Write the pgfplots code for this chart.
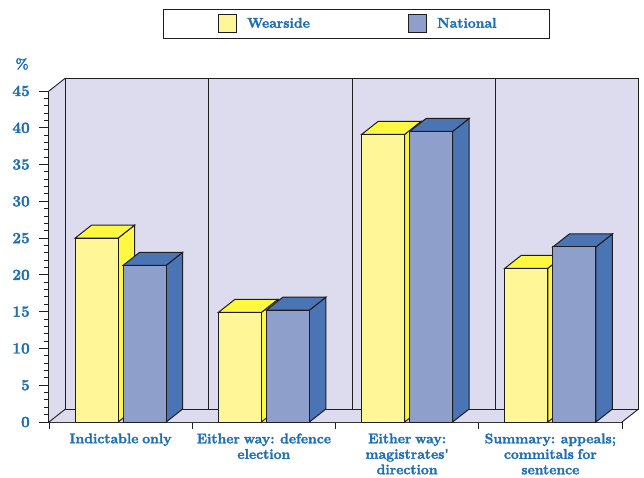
\documentclass[border=0pt]{standalone}
\usepackage{pgfplots}
\usepackage{pgfplotstable}
\pgfplotsset{compat=1.18}

\definecolor{wall}{HTML}{DCDCEE}
\definecolor{ink}{HTML}{1F6FB2}
\definecolor{edge}{HTML}{1E1E1E}
\definecolor{wfront}{HTML}{FFF797}
\definecolor{wside}{HTML}{FFF740}
\definecolor{nfront}{HTML}{8E9FCC}
\definecolor{nside}{HTML}{4A74B4}

% Blue label text, thickened a little with an outline stroke
\newcommand\inktext[1]{\fontsize{#1}{15.5}\selectfont\bfseries\color{ink}\special{pdf:code 2 Tr 0.3 w}\spaceskip=0.27em\relax}

% Percentage of cases per category; x is the middle of each group
\pgfplotstableread{
x   wearside national
0.5 25.0     21.3
1.5 14.9     15.2
2.5 39.1     39.5
3.5 20.9     23.8
}\cases

% A whole bar as a mark placed at its top: half width 21.5, depth (16.5,13),
% height taken from the plotted value. #1 name, #2 side and top colour, #3 front colour
\newcommand\definebarmark[3]{%
\pgfdeclareplotmark{#1}{%
  \pgfmathsetlengthmacro\barh{\barvalue*331pt/45}%
  \pgfsetfillcolor{#2}%
  \pgfpathmoveto{\pgfqpoint{21.5pt}{0pt}}%
  \pgfpathlineto{\pgfqpoint{38pt}{13pt}}%
  \pgfpathlineto{\pgfpoint{38pt}{13pt-\barh}}%
  \pgfpathlineto{\pgfpoint{21.5pt}{-\barh}}%
  \pgfpathclose
  \pgfusepathqfillstroke
  \pgfpathmoveto{\pgfqpoint{-21.5pt}{0pt}}%
  \pgfpathlineto{\pgfqpoint{-5pt}{13pt}}%
  \pgfpathlineto{\pgfqpoint{38pt}{13pt}}%
  \pgfpathlineto{\pgfqpoint{21.5pt}{0pt}}%
  \pgfpathclose
  \pgfusepathqfillstroke
  \pgfsetfillcolor{#3}%
  \pgfpathmoveto{\pgfqpoint{-21.5pt}{0pt}}%
  \pgfpathlineto{\pgfqpoint{21.5pt}{0pt}}%
  \pgfpathlineto{\pgfpoint{21.5pt}{-\barh}}%
  \pgfpathlineto{\pgfpoint{-21.5pt}{-\barh}}%
  \pgfpathclose
  \pgfusepathqfillstroke
}}
\definebarmark{wearside bar}{wside}{wfront}
\definebarmark{national bar}{nside}{nfront}

\pgfplotsset{
  solid bars/.style={
    only marks, forget plot, scatter,
    mark=#1,
    visualization depends on={rawy\as\barvalue},
    scatter/use mapped color={draw=edge,fill=white},
    line width=1pt, line join=miter,
  },
  front face/.style={
    ybar, bar width=43pt, draw=edge, line width=1pt, fill=#1,
    legend image code/.code={
      \draw[draw=edge,line width=1pt,fill=#1] (0pt,-9pt) rectangle (18pt,9pt);
      \path (-3pt,0pt) (26.5pt,0pt);
    },
  },
}

\begin{document}
\begin{tikzpicture}[x=1pt,y=1pt]
\useasboundingbox (0,0) rectangle (644,477);
\begin{axis}[
  at={(49pt,55pt)}, anchor=south west,
  scale only axis, width=573pt, height=331pt,
  xmin=0, xmax=4, ymin=0, ymax=45,
  clip=false,
  axis x line*=bottom, axis y line*=left,
  axis line style={-, draw=edge, line width=1.2pt},
  tick align=outside,
  xtick={0,1,2,3,4}, x tick label as interval=true,
  xticklabels={{Indictable only}, {Either way: defence\\election}, {Either way:\\magistrates\textquotesingle\\direction}, {Summary: appeals;\\commitals for\\sentence}},
  x tick label style={align=center, font=\inktext{14}, anchor=north, yshift=2pt, inner xsep=0pt},
  ytick={0,5,...,45}, minor y tick num=4,
  y tick label style={font=\inktext{15.5}, inner sep=0pt, xshift=-9pt},
  /pgf/number format/assume math mode=true,
  tick style={draw=edge, line width=1pt},
  major tick length=10pt, minor tick length=5pt,
  xtick style={/pgfplots/major tick length=7pt},
  legend columns=2,
  legend cell align=left,
  legend style={at={(axis cs:2.147,54.17)}, anchor=center, draw=edge, line width=1pt,
    inner xsep=50.75pt, inner ysep=5pt, fill=white,
    font=\inktext{14},
    /tikz/every even column/.append style={column sep=93pt}},
]
% Walls and floor of the box behind the bars
\fill[wall] (axis cs:0,0) -- ++(16.5pt,13pt) -- ++(0pt,331pt) -- (axis cs:0,45) -- cycle;
\fill[wall] (axis cs:0,0) -- (axis cs:4,0) -- ++(16.5pt,13pt) -- ++(-573pt,0pt) -- cycle;
\filldraw[fill=wall, draw=edge, line width=0.9pt] ([shift={(16.5pt,13pt)}]axis cs:0,0) rectangle ([shift={(16.5pt,13pt)}]axis cs:4,45);
\foreach \k in {1,2,3} {
  \edef\temp{\noexpand\draw[edge, line width=0.9pt] ([shift={(16.5pt,13pt)}]axis cs:\k,0) -- ([shift={(16.5pt,13pt)}]axis cs:\k,45);}
  \temp
}
\draw[edge, line width=0.9pt] (axis cs:0,0) -- ++(16.5pt,13pt);
\draw[edge, line width=0.9pt] (axis cs:0,45) -- ++(16.5pt,13pt);
\draw[edge, line width=0.9pt] (axis cs:4,0) -- ++(16.5pt,13pt);

\addplot[front face=wfront, bar shift=-24pt] table[x=x, y=wearside] {\cases};
\addlegendentry{Wearside}
\addplot[front face=nfront, bar shift=24pt] table[x=x, y=national] {\cases};
\addlegendentry{National}
\addplot[solid bars=wearside bar] table[x expr=\thisrow{x}-24/143.25, y=wearside] {\cases};
\addplot[solid bars=national bar] table[x expr=\thisrow{x}+24/143.25, y=national] {\cases};

\node[font=\inktext{14}] at ([shift={(-27pt,27pt)}]axis cs:0,45) {\%};
\end{axis}
\end{tikzpicture}
\end{document}
